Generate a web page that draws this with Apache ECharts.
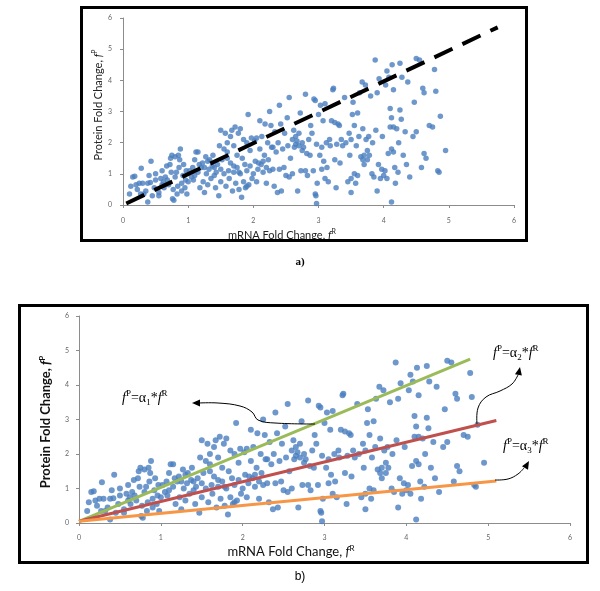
<!DOCTYPE html>
<html><head><meta charset="utf-8">
<script src="https://cdn.jsdelivr.net/npm/echarts@6/dist/echarts.min.js"></script>
<style>html,body{margin:0;padding:0;background:#fff}#c{width:600px;height:591px}</style>
</head><body><div id="c"></div>
<script>
// mRNA fold change (x), protein fold change (y) pairs
var foldChanges = [
[0.1,0.35],[0.15,0.9],[0.18,0.92],[0.2,0.65],[0.22,0.5],[0.25,0.7],[0.28,1.18],[0.3,0.7],[0.32,0.35],[0.35,0.45],[0.38,0.1],[0.38,0.7],[0.4,0.95],[0.42,0.72],[0.43,1.4],[0.45,0.3],[0.48,0.55],[0.5,1.0],[0.5,0.8],[0.27,0.35],[0.12,0.6],
[0.55,0.3],[0.55,0.4],[0.58,0.85],[0.6,1.1],[0.62,0.75],[0.63,0.55],[0.65,0.9],[0.67,1.25],[0.7,0.65],[0.72,1.3],[0.73,1.5],[0.75,1.6],[0.76,0.2],[0.77,0.5],[0.78,0.15],[0.8,1.55],[0.8,0.9],[0.82,1.05],[0.83,0.35],[0.84,0.6],[0.85,1.6],[0.86,1.2],[0.87,1.45],[0.88,1.8],[0.9,0.7],[0.9,0.45],[0.92,0.95],[0.93,1.3],[0.95,0.55],[0.96,0.8],[0.97,1.1],[0.98,0.35],[1.0,0.75],[0.68,0.8],[0.6,0.65],[0.74,1.05],
[1.02,1.1],[1.05,0.9],[1.07,1.2],[1.1,1.45],[1.1,0.95],[1.12,1.7],[1.15,1.05],[1.17,1.3],[1.18,0.55],[1.2,1.2],[1.22,1.35],[1.23,0.75],[1.25,0.4],[1.27,1.55],[1.28,1.0],[1.3,0.65],[1.32,1.15],[1.33,1.45],[1.35,0.85],[1.37,1.25],[1.38,1.6],[1.4,0.95],[1.42,0.55],[1.43,1.05],[1.45,1.3],[1.47,0.3],[1.48,1.9],[1.5,2.4],[1.5,0.75],[1.5,1.15],[1.15,1.7],[1.25,1.2],[1.3,1.4],[1.4,1.2],[1.08,0.8],
[1.52,1.45],[1.55,1.0],[1.57,2.3],[1.58,0.6],[1.6,1.7],[1.6,2.0],[1.62,1.1],[1.63,0.85],[1.65,2.2],[1.65,1.35],[1.67,2.4],[1.68,0.45],[1.7,1.9],[1.7,1.05],[1.72,2.5],[1.73,0.7],[1.75,1.6],[1.75,1.2],[1.77,2.3],[1.78,0.5],[1.8,2.45],[1.8,1.0],[1.82,0.25],[1.83,1.5],[1.85,2.1],[1.85,0.75],[1.87,1.3],[1.88,0.55],[1.9,2.0],[1.9,1.1],[1.92,2.9],[1.93,0.65],[1.95,1.75],[1.95,1.25],[1.97,2.15],[1.98,0.85],[1.6,1.5],[1.7,1.25],[1.55,1.8],[1.78,1.05],[1.9,0.6],
[2.0,1.0],[2.02,2.05],[2.03,1.4],[2.05,2.15],[2.05,0.75],[2.07,1.15],[2.1,2.7],[2.1,1.8],[2.12,1.3],[2.13,2.2],[2.15,1.05],[2.17,1.6],[2.18,2.6],[2.2,1.2],[2.2,0.7],[2.22,2.0],[2.23,1.45],[2.25,3.0],[2.25,1.1],[2.27,2.55],[2.28,1.85],[2.3,1.15],[2.32,0.6],[2.33,2.35],[2.35,1.7],[2.37,0.4],[2.38,2.0],[2.4,3.2],[2.4,1.15],[2.42,2.6],[2.43,0.45],[2.45,1.8],[2.47,1.2],[2.48,2.3],[2.08,1.35],[2.15,1.4],[2.3,1.85],
[2.5,0.95],[2.52,2.8],[2.53,1.9],[2.55,3.45],[2.55,0.9],[2.57,1.5],[2.6,2.1],[2.6,1.0],[2.62,2.4],[2.63,1.85],[2.65,1.95],[2.67,2.05],[2.68,0.45],[2.7,1.9],[2.7,2.3],[2.72,2.95],[2.73,1.1],[2.75,2.0],[2.77,1.85],[2.8,3.55],[2.8,1.1],[2.82,1.65],[2.83,0.95],[2.85,2.1],[2.87,1.6],[2.88,2.55],[2.9,2.3],[2.92,1.1],[2.93,3.4],[2.95,3.35],[2.95,0.35],[2.96,0.3],[2.97,0.05],[2.97,1.95],[2.98,0.7],[2.65,2.2],[2.75,1.75],
[3.0,2.9],[3.02,1.6],[3.03,3.2],[3.05,1.15],[3.07,2.7],[3.08,1.4],[3.1,3.25],[3.1,0.85],[3.12,2.0],[3.13,1.2],[3.15,0.75],[3.17,2.1],[3.18,1.9],[3.2,2.7],[3.22,3.7],[3.23,3.75],[3.25,2.65],[3.27,0.55],[3.28,1.95],[3.3,2.6],[3.32,2.55],[3.33,1.35],[3.35,2.1],[3.37,1.9],[3.4,3.45],[3.42,2.0],[3.45,0.75],[3.47,2.3],[3.48,1.6],[3.5,0.4],[3.5,0.85],[3.5,2.1],[3.05,1.85],[3.25,1.45],
[3.52,2.9],[3.53,3.3],[3.55,1.0],[3.55,2.55],[3.57,0.7],[3.58,1.9],[3.6,2.95],[3.6,0.95],[3.62,2.2],[3.63,3.6],[3.65,1.55],[3.67,3.95],[3.68,2.45],[3.7,1.6],[3.7,1.3],[3.72,3.85],[3.73,2.1],[3.75,1.45],[3.77,2.2],[3.78,1.6],[3.8,3.5],[3.82,1.0],[3.83,2.0],[3.85,0.9],[3.87,4.65],[3.88,2.4],[3.9,3.6],[3.9,0.45],[3.92,1.3],[3.93,4.05],[3.95,0.85],[3.97,1.15],[3.98,2.2],[3.68,1.45],[3.75,1.75],
[4.0,0.95],[4.02,1.1],[4.03,3.85],[4.05,4.3],[4.05,0.85],[4.07,1.65],[4.08,4.1],[4.1,3.1],[4.1,2.5],[4.12,2.8],[4.12,0.1],[4.13,4.5],[4.15,3.7],[4.15,2.5],[4.17,1.2],[4.18,0.7],[4.2,2.45],[4.22,1.05],[4.23,2.0],[4.25,4.55],[4.25,3.05],[4.27,2.75],[4.28,4.1],[4.3,1.6],[4.33,2.35],[4.35,1.3],[4.37,3.95],[4.4,0.9],[4.45,2.2],[4.47,3.3],[4.5,4.7],[4.5,2.35],[4.12,1.8],[4.15,1.7],
[4.55,4.65],[4.58,1.2],[4.6,3.75],[4.62,3.6],[4.62,1.65],[4.65,1.5],[4.7,2.55],[4.75,2.5],[4.78,4.35],[4.8,3.65],[4.83,1.1],[4.85,1.05],[4.87,2.85],[4.95,1.75]
];
// fitted / reference lines (endpoints)
var dashedLine = [[0.05,0.05],[5.75,5.7]];
var alpha1Line = [[0,0.05],[4.78,4.75]];
var alpha2Line = [[0,0.05],[5.1,2.97]];
var alpha3Line = [[0,0.05],[5.1,1.22]];

var chart = echarts.init(document.getElementById('c'), null, {renderer:'canvas'});
var dotColor = '#4A7EBF';
var axisGrey = '#8c8c8c';
function xAx(gi){return {type:'value',gridIndex:gi,min:0,max:6,interval:1,
  axisLine:{show:true,lineStyle:{color:axisGrey,width:1}},
  axisTick:{show:true,inside:false,length:3,lineStyle:{color:axisGrey}},
  splitLine:{show:false},
  axisLabel:{color:'#666',fontSize:7,fontFamily:'Lato',margin:gi===0?12:11}};}
function yAx(gi){return {type:'value',gridIndex:gi,min:0,max:6,interval:1,
  axisLine:{show:true,lineStyle:{color:axisGrey,width:1}},
  axisTick:{show:true,inside:false,length:3,lineStyle:{color:axisGrey}},
  splitLine:{show:false},
  axisLabel:{color:'#666',fontSize:7,fontFamily:'Lato',margin:gi===0?11:10}};}

function eqText(x,y,n){
  return {type:'text',x:x,y:y,z:100,style:{
    text:'{i|f}{s|P}{n|=α}{b|'+n+'}{n|*}{i|f}{s|R}',
    rich:{
      i:{fontFamily:'Liberation Serif',fontStyle:'italic',fontSize:14,fill:'#000',lineHeight:18},
      n:{fontFamily:'Liberation Serif',fontSize:14,fill:'#000',lineHeight:18},
      s:{fontFamily:'Liberation Serif',fontSize:9,fill:'#000',verticalAlign:'top',lineHeight:18},
      b:{fontFamily:'Liberation Serif',fontSize:9,fill:'#000',verticalAlign:'bottom',lineHeight:18}
    },
    align:'left',verticalAlign:'middle'}};
}
function arrowHead(tipX,tipY,angle){
  var L=8,W=3.5;
  var bx=tipX-L*Math.cos(angle), by=tipY-L*Math.sin(angle);
  var px=-Math.sin(angle)*W, py=Math.cos(angle)*W;
  return {type:'polygon',z:100,shape:{points:[[tipX,tipY],[bx+px,by+py],[bx-px,by-py]]},style:{fill:'#000'}};
}

var option = {
  animation:false,
  grid:[
    {left:123,top:18,right:86,bottom:386,containLabel:false},
    {left:79,top:316,right:30,bottom:68,containLabel:false}
  ],
  xAxis:[xAx(0),xAx(1)],
  yAxis:[yAx(0),yAx(1)],
  series:[
    {type:'scatter',xAxisIndex:0,yAxisIndex:0,data:foldChanges,symbolSize:5.5,itemStyle:{color:dotColor},z:2},
    {type:'line',xAxisIndex:0,yAxisIndex:0,data:dashedLine,showSymbol:false,z:3,
      lineStyle:{color:'#000',width:4,type:[20,11]}},
    {type:'scatter',xAxisIndex:1,yAxisIndex:1,data:foldChanges,symbolSize:6,itemStyle:{color:dotColor},z:2},
    {type:'line',xAxisIndex:1,yAxisIndex:1,data:alpha1Line,showSymbol:false,z:3,lineStyle:{color:'#9BBB59',width:3}},
    {type:'line',xAxisIndex:1,yAxisIndex:1,data:alpha2Line,showSymbol:false,z:3,lineStyle:{color:'#C0504D',width:3}},
    {type:'line',xAxisIndex:1,yAxisIndex:1,data:alpha3Line,showSymbol:false,z:3,lineStyle:{color:'#F79646',width:3}}
  ],
  graphic:[
    {type:'rect',shape:{x:81.5,y:7.5,width:445,height:233},style:{fill:'none',stroke:'#000',lineWidth:3},z:50},
    {type:'rect',shape:{x:19.5,y:305.5,width:568,height:257},style:{fill:'none',stroke:'#000',lineWidth:3},z:50},
    // panel a titles
    {type:'text',x:282,y:235,style:{text:'{n|mRNA Fold Change, }{i|f}{s|R}',align:'center',verticalAlign:'middle',
      rich:{n:{fontFamily:'Lato',fontSize:11,fill:'#222',lineHeight:14},i:{fontFamily:'Lato',fontStyle:'italic',fontSize:11,fill:'#222',lineHeight:14},s:{fontFamily:'Lato',fontSize:7,fill:'#222',verticalAlign:'top',lineHeight:14}}}},
    {type:'text',x:98,y:105,rotation:Math.PI/2,style:{text:'{n|Protein Fold Change, }{i|f}{s|P}',align:'center',verticalAlign:'middle',
      rich:{n:{fontFamily:'Lato',fontSize:11,fill:'#222',lineHeight:14},i:{fontFamily:'Lato',fontStyle:'italic',fontSize:11,fill:'#222',lineHeight:14},s:{fontFamily:'Lato',fontSize:7,fill:'#222',verticalAlign:'top',lineHeight:14}}}},
    // panel b titles
    {type:'text',x:291,y:552,style:{text:'{n|mRNA Fold Change, }{i|f}{s|R}',align:'center',verticalAlign:'middle',
      rich:{n:{fontFamily:'Lato',fontSize:13,fill:'#111',lineHeight:16},i:{fontFamily:'Lato',fontStyle:'italic',fontSize:13,fill:'#111',lineHeight:16},s:{fontFamily:'Lato',fontSize:8,fill:'#111',verticalAlign:'top',lineHeight:16}}}},
    {type:'text',x:46,y:422,rotation:Math.PI/2,style:{text:'{n|Protein Fold Change, }{i|f}{s|P}',align:'center',verticalAlign:'middle',
      rich:{n:{fontFamily:'Lato',fontWeight:'bold',fontSize:13,fill:'#111',lineHeight:16},i:{fontFamily:'Lato',fontWeight:'bold',fontStyle:'italic',fontSize:13,fill:'#111',lineHeight:16},s:{fontFamily:'Lato',fontWeight:'bold',fontSize:8,fill:'#111',verticalAlign:'top',lineHeight:16}}}},
    // panel labels
    {type:'text',x:300,y:262,style:{text:'a)',font:'bold 11px "Liberation Serif"',fill:'#000',align:'center',verticalAlign:'middle'}},
    {type:'text',x:300,y:577,style:{text:'b)',font:'12px "Liberation Sans"',fill:'#000',align:'center',verticalAlign:'middle'}},
    // equations
    eqText(122,398,'1'),
    eqText(493,353,'2'),
    eqText(503,446,'3'),
    // arrows
    {type:'polyline',z:100,shape:{points:[[315,424],[275,423],[258,420],[252,412],[240,406],[218,403],[199,403]],smooth:0.4},style:{stroke:'#000',lineWidth:1,fill:'none'}},
    arrowHead(192,403,Math.PI),
    {type:'polyline',z:100,shape:{points:[[477,424],[478,408],[486,397],[500,391],[512,384],[518,375]],smooth:0.4},style:{stroke:'#000',lineWidth:1,fill:'none'}},
    arrowHead(520,367,-Math.PI/2+0.2),
    {type:'polyline',z:100,shape:{points:[[495,480],[508,479],[518,474],[524,468]],smooth:0.4},style:{stroke:'#000',lineWidth:1,fill:'none'}},
    arrowHead(529,461,-Math.PI/3)
  ]
};
chart.setOption(option);
</script>
</body></html>
